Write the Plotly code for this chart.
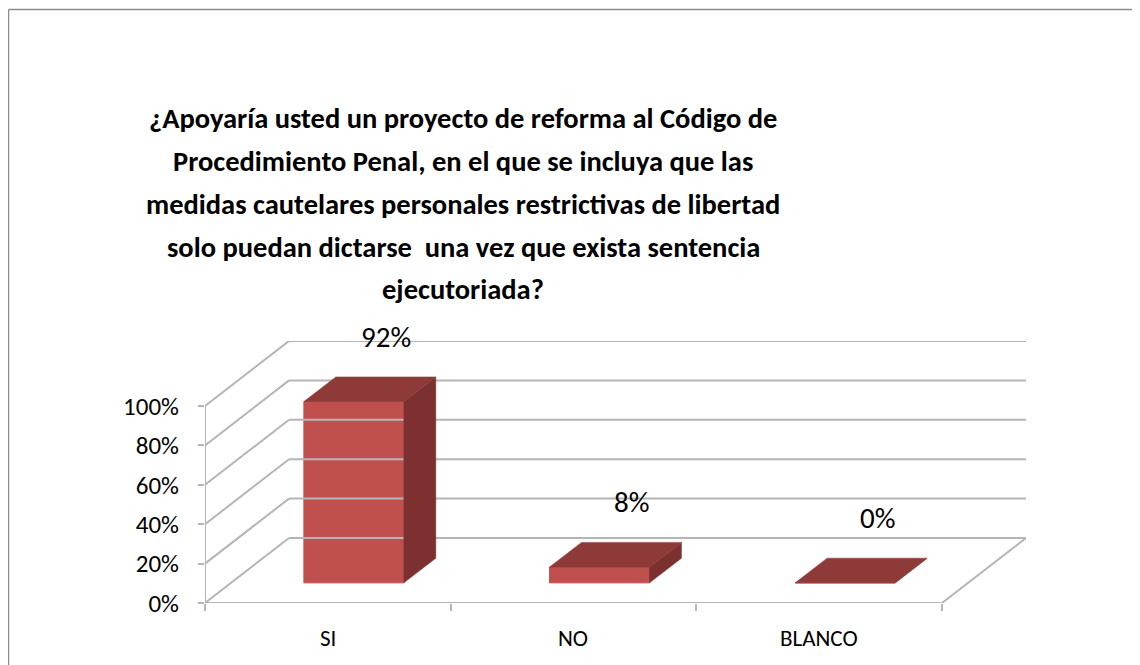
import plotly.graph_objects as go

# ---- data ----
categories = ["SI", "NO", "BLANCO"]
values = [0.92, 0.08, 0.0]
y_ticks = [0.0, 0.2, 0.4, 0.6, 0.8, 1.0]
y_tick_labels = ["0%", "20%", "40%", "60%", "80%", "100%"]
title_lines = [
    "¿Apoyaría usted un proyecto de reforma al Código de",
    "Procedimiento Penal, en el que se incluya que las",
    "medidas cautelares personales restrictivas de libertad",
    "solo puedan dictarse  una vez que exista sentencia",
    "ejecutoriada?",
]

# ---- layout geometry (oblique 3D projection) ----
# page has an 8px body margin, so the figure is 1132x657
W_PX, H_PX = 1132, 657
L, R, T, B = 197, 114, 333, 62
pw = W_PX - L - R
ph = H_PX - T - B
DX = 0.342   # depth shift in category units
DY = 0.33    # depth shift in value units
D0, D1 = 0.31, 0.69   # bar depth start / end (fraction of depth)
BW = 0.407   # bar width (category units)
n = len(categories)

FONT = "Carlito, Lato, 'Liberation Sans', sans-serif"
GRID = "#b5b5b5"
FRONT = "#C0504D"
TOP = "#8E3A38"
SIDE = "#7C3130"


def px2paper_x(px):
    return (px - L) / pw


def px2paper_y(py):
    return (H_PX - B - py) / ph


fig = go.Figure()

# walls: back gridlines, left wall obliques, floor
gx, gy = [], []
for v in y_ticks:
    gx += [DX, n + DX, None]
    gy += [v + DY, v + DY, None]
    gx += [0, DX, None]
    gy += [v, v + DY, None]
gx += [n, n + DX, None]
gy += [0, DY, None]
fig.add_trace(go.Scatter(x=gx, y=gy, mode="lines",
                         line=dict(color=GRID, width=2),
                         hoverinfo="skip", showlegend=False))
# front axis lines
fig.add_trace(go.Scatter(x=[0, 0, None, 0, n], y=[y_ticks[-1], 0, None, 0, 0],
                         mode="lines", line=dict(color=GRID, width=2),
                         hoverinfo="skip", showlegend=False))

# bars: front faces
centers = [i + 0.5 for i in range(n)]
fig.add_trace(go.Bar(x=[c + D0 * DX for c in centers], y=values,
                     base=[D0 * DY] * n, width=[BW] * n,
                     marker=dict(color=FRONT, line=dict(color=FRONT, width=1)),
                     hoverinfo="skip", showlegend=False))

# side and top faces
for c, v in zip(centers, values):
    xl, xr = c - BW / 2, c + BW / 2
    fig.add_trace(go.Scatter(
        x=[xr + D0 * DX, xr + D1 * DX, xr + D1 * DX, xr + D0 * DX, xr + D0 * DX],
        y=[D0 * DY, D1 * DY, v + D1 * DY, v + D0 * DY, D0 * DY],
        fill="toself", fillcolor=SIDE, mode="lines",
        line=dict(color=SIDE, width=0.5), hoverinfo="skip", showlegend=False))
    fig.add_trace(go.Scatter(
        x=[xl + D0 * DX, xr + D0 * DX, xr + D1 * DX, xl + D1 * DX, xl + D0 * DX],
        y=[v + D0 * DY, v + D0 * DY, v + D1 * DY, v + D1 * DY, v + D0 * DY],
        fill="toself", fillcolor=TOP, mode="lines",
        line=dict(color=TOP, width=0.5), hoverinfo="skip", showlegend=False))

annotations = []
# data labels
for c, v in zip(centers, values):
    annotations.append(dict(
        x=c + D1 * DX, y=v + D1 * DY, xref="x", yref="y",
        text=f"{round(v * 100)}%", showarrow=False, yanchor="middle", yshift=40,
        font=dict(family=FONT, size=29, color="#000000")))
# category labels
for c, cat in zip(centers, categories):
    annotations.append(dict(
        x=c, y=0, xref="x", yref="y", text=cat, showarrow=False,
        yanchor="middle", yshift=-35,
        font=dict(family=FONT, size=23, color="#000000")))
# title, one line at a time (Excel-like line spacing)
title_y = [110, 154, 196, 239, 281]
for line, py in zip(title_lines, title_y):
    annotations.append(dict(
        x=px2paper_x(455), y=px2paper_y(py), xref="paper", yref="paper",
        text="<b>" + line + "</b>", showarrow=False,
        xanchor="center", yanchor="middle",
        font=dict(family=FONT, size=28.5, color="#000000")))

# outer frame (left and top edges)
shapes = [
    dict(type="line", xref="paper", yref="paper",
         x0=px2paper_x(0.5), y0=px2paper_y(1.5), x1=px2paper_x(W_PX), y1=px2paper_y(1.5),
         line=dict(color="#8c8c8c", width=1.5)),
    dict(type="line", xref="paper", yref="paper",
         x0=px2paper_x(0.5), y0=px2paper_y(1.5), x1=px2paper_x(0.5), y1=px2paper_y(H_PX),
         line=dict(color="#8c8c8c", width=1.5)),
]

fig.update_layout(
    width=W_PX, height=H_PX, autosize=False,
    margin=dict(l=L, r=R, t=T, b=B, pad=0),
    paper_bgcolor="white", plot_bgcolor="white",
    showlegend=False, barmode="overlay",
    annotations=annotations, shapes=shapes,
    xaxis=dict(range=[0, n + DX], showgrid=False, zeroline=False,
               showline=False, tickmode="array",
               tickvals=list(range(n + 1)), ticktext=[""] * (n + 1),
               ticks="outside", ticklen=7, tickcolor=GRID, tickwidth=2,
               fixedrange=True),
    yaxis=dict(range=[0, 1 + DY], showgrid=False, zeroline=False,
               showline=False, tickmode="array",
               tickvals=y_ticks, ticktext=y_tick_labels,
               ticks="outside", ticklen=6, tickcolor=GRID, tickwidth=2,
               ticklabelstandoff=14,
               tickfont=dict(family=FONT, size=25, color="#000000"),
               fixedrange=True),
)

fig.write_html("out.html")
